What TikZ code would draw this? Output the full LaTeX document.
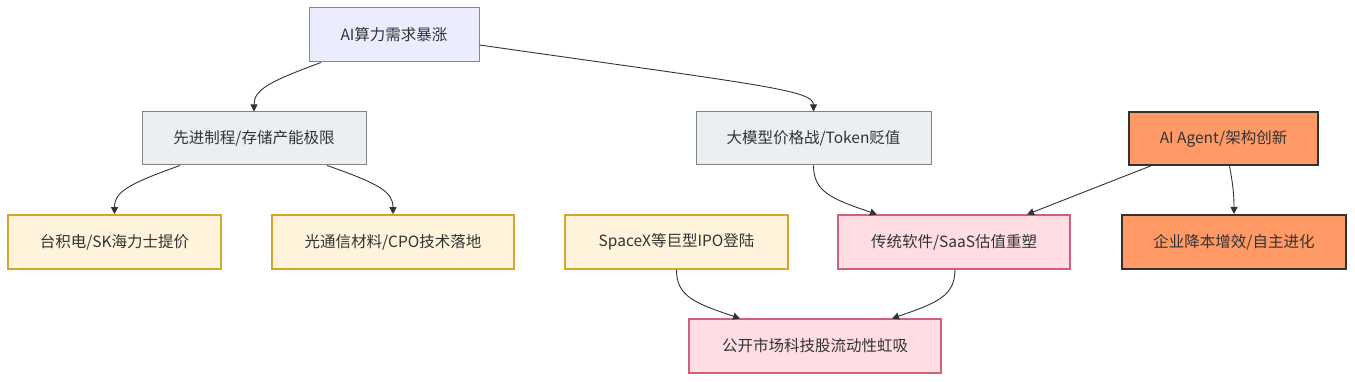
\documentclass[tikz,border=0pt]{standalone}
\usepackage{fontspec}
\setmainfont{Noto Sans CJK SC}
\usetikzlibrary{arrows.meta}
\definecolor{txt}{HTML}{333333}
\definecolor{aifill}{HTML}{ECECFF}
\definecolor{aistroke}{HTML}{9370DB}
\definecolor{grayfill}{HTML}{ECEFF1}
\definecolor{graystroke}{HTML}{7F8487}
\definecolor{yelfill}{HTML}{FFF3DC}
\definecolor{yelstroke}{HTML}{D4A62C}
\definecolor{pinkfill}{HTML}{FFDDE3}
\definecolor{pinkstroke}{HTML}{D0607E}
\definecolor{orgfill}{HTML}{FF9966}
\definecolor{orgstroke}{HTML}{333333}
\definecolor{edge}{HTML}{333333}
\tikzset{
  box/.style={rectangle, text=txt, font=\fontsize{15.5}{19}\selectfont, inner sep=0pt, minimum height=54pt},
  aibox/.style={box, fill=aifill, draw=aistroke, line width=1pt},
  graybox/.style={box, fill=grayfill, draw=graystroke, line width=1pt},
  yelbox/.style={box, fill=yelfill, draw=yelstroke, line width=1.6pt},
  pinkbox/.style={box, fill=pinkfill, draw=pinkstroke, line width=1.2pt},
  orgbox/.style={box, fill=orgfill, draw=orgstroke, line width=2pt},
  conn/.style={draw=edge, line width=0.9pt, -{Triangle[length=7pt,width=7pt]}}
}
\begin{document}
\begin{tikzpicture}[x=1pt,y=-1pt]
\useasboundingbox (0,0) rectangle (1355,382);
\node[aibox, minimum width=170pt] (ai) at (394,35) {AI算力需求暴涨};
\node[graybox, minimum width=224pt, minimum height=53pt] (adv) at (254,138.5) {先进制程/存储产能极限};
\node[graybox, minimum width=235pt, minimum height=53pt] (llm) at (813.5,138.5) {大模型价格战/Token贬值};
\node[orgbox, minimum width=189pt, minimum height=53pt] (agent) at (1223.5,138.5) {AI Agent/架构创新};
\node[yelbox, minimum width=213pt] (tsmc) at (114.5,242) {台积电/SK海力士提价};
\node[yelbox, minimum width=242pt] (optic) at (393,242) {光通信材料/CPO技术落地};
\node[yelbox, minimum width=223pt] (spacex) at (676.5,242) {SpaceX等巨型IPO登陆};
\node[pinkbox, minimum width=232pt] (saas) at (954,242) {传统软件/SaaS估值重塑};
\node[orgbox, minimum width=224pt] (ent) at (1234,242) {企业降本增效/自主进化};
\node[pinkbox, minimum width=252pt] (pub) at (815,346) {公开市场科技股流动性虹吸};

\draw[conn] ([xshift=-73pt]ai.south) .. controls (268,82) and (254,90) .. (adv.north);
\draw[conn] ([yshift=-10pt]ai.east) .. controls (760,85) and (813.5,90) .. (llm.north);
\draw[conn] ([xshift=-74pt]adv.south) .. controls (128,184) and (114.5,192) .. (tsmc.north);
\draw[conn] ([xshift=73pt]adv.south) .. controls (380,184) and (393,192) .. (optic.north);
\draw[conn] (llm.south) .. controls (813.5,192) and (832,199) .. ([xshift=-77pt]saas.north);
\draw[conn] ([xshift=-73pt]agent.south) -- ([xshift=73pt]saas.north);
\draw[conn] ([xshift=6pt]agent.south) .. controls (1233,185) and (1234,195) .. (ent.north);
\draw[conn] (spacex.south) .. controls (676.5,296) and (694,303) .. ([xshift=-75pt]pub.north);
\draw[conn] ([xshift=1pt]saas.south) .. controls (955,296) and (937,303) .. ([xshift=77pt]pub.north);
\end{tikzpicture}
\end{document}
